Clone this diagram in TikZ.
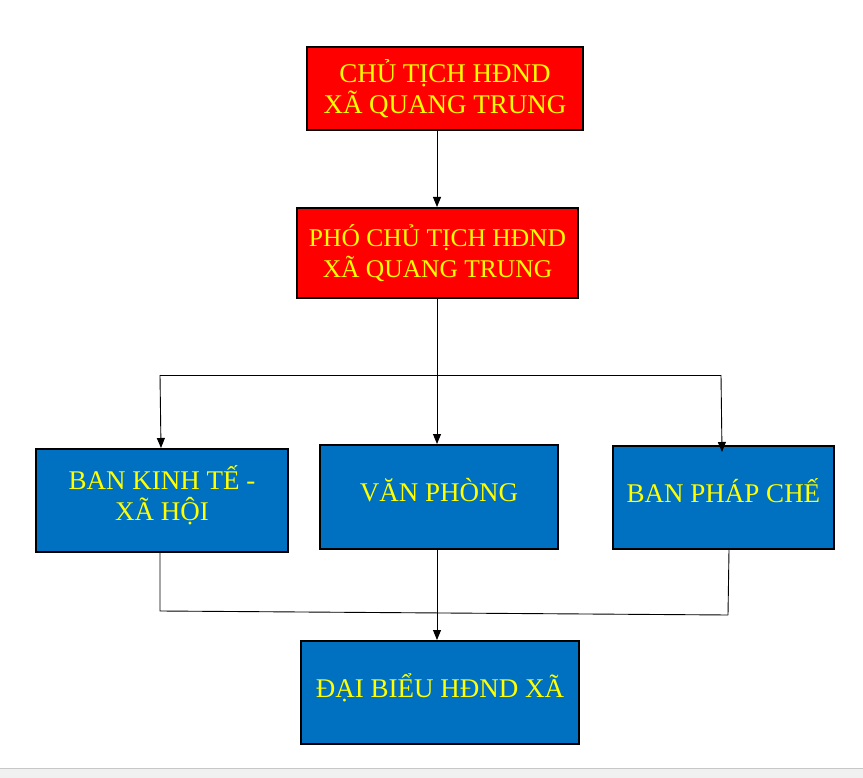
\documentclass[tikz,border=0pt]{standalone}
\usepackage{fontspec}
\setmainfont{Liberation Serif}
\usetikzlibrary{arrows.meta}

\definecolor{hdred}{HTML}{FF0000}
\definecolor{hdblue}{HTML}{0070C0}
\definecolor{hdyellow}{HTML}{FFFF00}

\begin{document}
\begin{tikzpicture}[
  x=1pt,y=-1pt,
  every box/.style={draw=black,line width=2pt,text=hdyellow,align=center,
    inner sep=2pt,font=\fontsize{27}{31}\selectfont},
  redbox/.style={every box,fill=hdred},
  bluebox/.style={every box,fill=hdblue,text depth=14pt},
  link/.style={draw=black,line width=0.9pt},
  arrow/.style={link,-{Triangle[length=10pt,width=8pt]}}
]
  \useasboundingbox (0,0) rectangle (863,778);
  \fill[white] (0,0) rectangle (863,778);
  % status bar at the bottom
  \fill[black!6] (0,768) rectangle (863,778);
  \draw[black!22,line width=1pt] (0,768) -- (863,768);

  \node[redbox,minimum width=276pt,minimum height=83pt] (chutich) at (445,88.5)
    {CHỦ TỊCH HĐND\\XÃ QUANG TRUNG};
  \node[redbox,minimum width=281pt,minimum height=90pt,
    font=\fontsize{25.5}{30.5}\selectfont] (phochutich) at (437.5,253)
    {PHÓ CHỦ TỊCH HĐND\\XÃ QUANG TRUNG};
  \node[bluebox,minimum width=252pt,minimum height=103pt] (bankt) at (162,500.5)
    {BAN KINH TẾ -\\XÃ HỘI};
  \node[bluebox,minimum width=238pt,minimum height=104pt] (vanphong) at (439,497)
    {VĂN PHÒNG};
  \node[bluebox,minimum width=221pt,minimum height=103pt] (banpc) at (723.5,497.5)
    {BAN PHÁP CHẾ};
  \node[bluebox,minimum width=278pt,minimum height=103pt] (daibieu) at (440,692.5)
    {ĐẠI BIỂU HĐND XÃ};

  % bus lines
  \coordinate (topL) at (160,375);
  \coordinate (topR) at (721,375);
  \coordinate (topM) at (437,375);
  \coordinate (botL) at (160,611);
  \coordinate (botR) at (728,615);

  \draw[arrow] (437,130) -- (phochutich.north -| 437,0);
  \draw[link] (phochutich.south -| 437,0) -- (topM);
  \draw[link] (topL) -- (topR);
  \draw[arrow] (topL) -- (bankt.north -| 161,0);
  \draw[arrow] (topM) -- (vanphong.north -| 437,0);
  \draw[arrow] (topR) -- (722,452);

  \draw[link] (bankt.south -| 160,0) -- (botL) -- (botR);
  \draw[link] (banpc.south -| 729,0) -- (botR);
  \draw[arrow] (vanphong.south -| 437,0) -- (daibieu.north -| 437,0);
\end{tikzpicture}
\end{document}
